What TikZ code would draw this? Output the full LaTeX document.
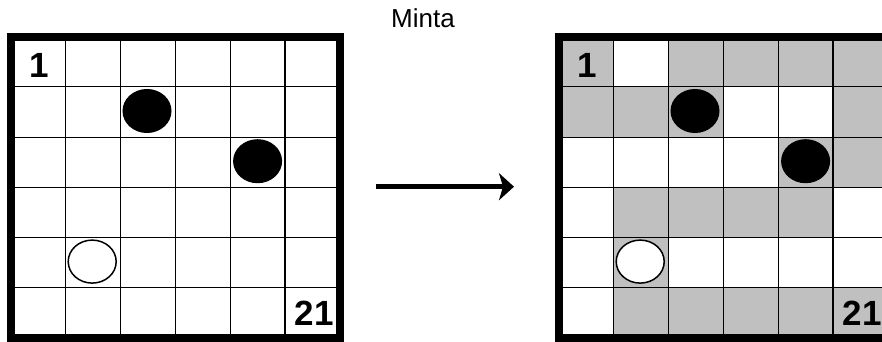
\documentclass[tikz,border=0pt]{standalone}
\usepackage{fontspec}
\setmainfont{Liberation Sans}
\usetikzlibrary{arrows.meta}
\definecolor{pathgray}{RGB}{192,192,192}

\begin{document}
\begin{tikzpicture}[x=1pt, y=-1pt,
    gridline/.style={line width=1.2pt},
    frame/.style={line width=8pt},
    stone/.style={fill=black, draw=black, line width=1pt},
    hole/.style={fill=white, draw=black, line width=1.5pt},
    clue/.style={font=\bfseries\fontsize{35}{35}\selectfont, inner sep=0pt}]
    \useasboundingbox (0,0) rectangle (882,342);

    % Title
    \node[font=\fontsize{26}{26}\selectfont, anchor=base] (title) at (423,27.5) {Minta};

    % Path cells of the solution (row/column)
    \foreach \r/\c in {0/0,0/2,0/3,0/4,0/5,1/0,1/1,1/2,1/5,2/4,2/5,
                       3/1,3/2,3/3,3/4,4/1,5/1,5/2,5/3,5/4,5/5}
      \fill[pathgray] ({559+\c*54.8},{36.7+\r*50.2}) rectangle ++(54.8,50.2);

    % Both boards
    \foreach \bx/\brd in {11/L, 559/R} {
      \foreach \i in {1,...,5} {
        \draw[gridline] ({\bx+\i*54.8},36.7) -- ++(0,301.3);
        \draw[gridline] (\bx,{36.7+\i*50.2}) -- ++(329,0);
      }
      \draw[frame] (\bx,36.7) rectangle ++(329,301.3);

      % Stones
      \draw[stone] ({\bx+2.5*54.8-1},{36.7+1.5*50.2-1}) ellipse [x radius=24pt, y radius=21.5pt];
      \draw[stone] ({\bx+4.5*54.8},{36.7+2.5*50.2-1}) ellipse [x radius=24pt, y radius=21.5pt];
      \draw[hole] ({\bx+1.5*54.8-1},{36.7+4.5*50.2-1}) ellipse [x radius=24pt, y radius=21.5pt];

      % Start and end numbers
      \node[clue, anchor=base west] (start-\brd) at ({\bx+18.4},78) {1};
      \node[clue, anchor=base east] (end-\brd) at ({\bx+323.1},325) {21};
    }

    % Arrow between the boards
    \coordinate (arrowtail) at (376,186.7);
    \coordinate (arrowtip) at (514,186.7);
    \draw[line width=5pt, -{Stealth[length=15pt, width=27pt, inset=4pt]}] (arrowtail) -- (arrowtip);
\end{tikzpicture}
\end{document}
